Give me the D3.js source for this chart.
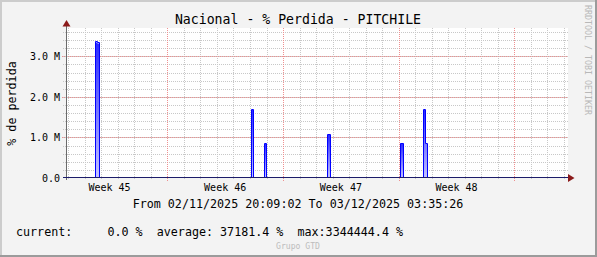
<!DOCTYPE html>
<html>
<head>
<meta charset="utf-8">
<script src="https://cdn.jsdelivr.net/npm/d3@7"></script>
<style>
  body { margin: 0; background: #f3f3f3; }
  text { font-family: "DejaVu Sans Mono", monospace; white-space: pre; }
</style>
</head>
<body>
<svg class="chart"></svg>
<script>
// time window of the graph (UTC)
var rangeStart = "2025-11-02 20:09:02",
    rangeEnd = "2025-12-03 03:35:26";

// non-zero samples of "% de perdida", each run ends with a 0
var sampleTimes = [
    "2025-11-04 14:47:00", "2025-11-04 18:15:00", "2025-11-04 21:11:00",
    "2025-11-14 00:51:00", "2025-11-14 04:12:00",
    "2025-11-14 20:39:00", "2025-11-14 23:07:00",
    "2025-11-18 16:15:00", "2025-11-18 20:15:00",
    "2025-11-23 02:27:00", "2025-11-23 05:58:00",
    "2025-11-24 11:03:00", "2025-11-24 14:27:00", "2025-11-24 17:21:00"
];
var sampleValues = [
    3344444.4, 3320000, 0,
    1680000, 0,
    840000, 0,
    1060000, 0,
    850000, 0,
    1680000, 840000, 0
];

var yTicks = [0, 1e6, 2e6, 3e6];
var yTickLabels = ["0.0", "1.0 M", "2.0 M", "3.0 M"];
var weekMids = ["2025-11-05 12:00:00", "2025-11-12 12:00:00", "2025-11-19 12:00:00", "2025-11-26 12:00:00"];
var weekLabels = ["Week 45", "Week 46", "Week 47", "Week 48"];

var title = "Nacional - % Perdida - PITCHILE",
    yTitle = "% de perdida",
    fromTo = "From 02/11/2025 20:09:02 To 03/12/2025 03:35:26",
    legend = "current:     0.0 %  average: 37181.4 %  max:3344444.4 %",
    footer = "Grupo GTD",
    watermark = "RRDTOOL / TOBI OETIKER";

var svgWidth = 597, svgHeight = 257;
var parse = d3.utcParse("%Y-%m-%d %H:%M:%S");

var svg = d3.select(".chart")
    .attr("width", svgWidth)
    .attr("height", svgHeight)
    .style("display", "block");

// canvas with rrdtool style shade border
svg.append("rect").attr("width", svgWidth).attr("height", svgHeight).attr("fill", "#f3f3f3");
svg.append("path").attr("d", "M0,0H597V2H2V257H0Z").attr("fill", "#cccccc");
svg.append("path").attr("d", "M597,0V257H0V255H595V0Z").attr("fill", "#9b9b9b");

var x = d3.scaleUtc()
    .domain([parse(rangeStart), parse(rangeEnd)])
    .range([65.5, 566.5]);
var y = d3.scaleLinear()
    .domain([0, 3.7e6])
    .range([178, 28]);

var crisp = function(v) { return Math.round(v) + 0.5; };

// plot background
svg.append("rect")
    .attr("x", 66).attr("y", 28)
    .attr("width", 502).attr("height", 150)
    .attr("fill", "#ffffff");

var dayLines = x.ticks(d3.utcDay.every(1));
var weekLines = x.ticks(d3.utcSunday.every(1));
var minorY = d3.range(0.2e6, 3.7e6, 0.2e6);

// each grid family is one dotted path
function vpath(data, y2) {
    var p = d3.path();
    data.forEach(function(d) { p.moveTo(crisp(x(d)), 28); p.lineTo(crisp(x(d)), y2); });
    return p.toString();
}
function hpath(data, x1) {
    var p = d3.path();
    data.forEach(function(d) { p.moveTo(x1, crisp(y(d))); p.lineTo(568, crisp(y(d))); });
    return p.toString();
}
var grid = svg.append("g")
    .attr("fill", "none")
    .attr("stroke-dasharray", "1,1");
grid.append("path").attr("d", vpath(dayLines, 180)).attr("stroke", "#c8c8c8");
grid.append("path").attr("d", hpath(minorY, 63)).attr("stroke", "#c8c8c8");
grid.append("path").attr("d", hpath(yTicks.slice(1), 62)).attr("stroke", "#ee9090");
grid.append("path").attr("d", vpath(weekLines, 182)).attr("stroke", "#ee9090");

// gradient for the spikes
var grad = svg.append("defs").append("linearGradient")
    .attr("id", "spikeFill")
    .attr("x1", 0).attr("y1", 0).attr("x2", 0).attr("y2", 1);
grad.append("stop").attr("offset", "0%").attr("stop-color", "#2a2aff");
grad.append("stop").attr("offset", "100%").attr("stop-color", "#c4c4ff");

// split samples into runs, each run is one spike
var runs = [], cur = [];
sampleTimes.forEach(function(t, i) {
    cur.push({t: parse(t), v: sampleValues[i]});
    if (sampleValues[i] === 0) { runs.push(cur); cur = []; }
});

var area = d3.area()
    .curve(d3.curveStepAfter)
    .x(function(d) { return crisp(x(d.t)); })
    .y0(y(0))
    .y1(function(d) { return y(d.v); });

svg.append("g").selectAll("path")
    .data(runs)
    .enter().append("path")
    .attr("d", area)
    .attr("fill", "url(#spikeFill)");

// step line for each spike
var line = d3.line()
    .curve(d3.curveStepAfter)
    .x(function(d) { return crisp(x(d.t)); })
    .y(function(d) { return crisp(y(d.v)) - 1; });

svg.append("g").selectAll("path")
    .data(runs)
    .enter().append("path")
    .attr("d", function(r) { return line([{t: r[0].t, v: 0}].concat(r)); })
    .attr("fill", "none")
    .attr("stroke", "#0000ff");

// axes
svg.append("line")
    .attr("x1", 66.5).attr("x2", 66.5).attr("y1", 180).attr("y2", 24)
    .attr("stroke", "#6a6a6a");
svg.append("line")
    .attr("x1", 63).attr("x2", 569).attr("y1", 177.5).attr("y2", 177.5)
    .attr("stroke", "#1c1c6a");
svg.append("path").attr("d", "M62.5,26.5L66.5,20L70.5,26.5Z").attr("fill", "#8b1a1a");
svg.append("path").attr("d", "M568,174L574.5,178L568,182Z").attr("fill", "#8b1a1a");

// y tick labels
svg.append("g").selectAll("text")
    .data(yTicks)
    .enter().append("text")
    .attr("x", 60)
    .attr("y", function(d) { return y(d) + 4; })
    .attr("text-anchor", "end")
    .attr("font-size", "10px")
    .attr("fill", "#000")
    .text(function(d, i) { return yTickLabels[i]; });

// week labels
svg.append("g").selectAll("text")
    .data(weekMids)
    .enter().append("text")
    .attr("x", function(d) { return x(parse(d)); })
    .attr("y", 191)
    .attr("text-anchor", "middle")
    .attr("font-size", "10px")
    .attr("fill", "#000")
    .text(function(d, i) { return weekLabels[i]; });

// title and texts
svg.append("text")
    .attr("x", 298).attr("y", 24)
    .attr("text-anchor", "middle")
    .attr("font-size", "13.2px")
    .text(title);

svg.append("text")
    .attr("transform", "translate(15.5,103.5) rotate(-90)")
    .attr("text-anchor", "middle")
    .attr("font-size", "11.7px")
    .text(yTitle);

svg.append("text")
    .attr("transform", "translate(585,5) rotate(90)")
    .attr("font-size", "8.3px")
    .attr("fill", "#b8b8b8")
    .text(watermark);

svg.append("text")
    .attr("x", 298).attr("y", 208)
    .attr("text-anchor", "middle")
    .attr("font-size", "11.7px")
    .text(fromTo);

svg.append("text")
    .attr("x", 16).attr("y", 236)
    .attr("font-size", "11.7px")
    .text(legend);

svg.append("text")
    .attr("x", 298).attr("y", 249)
    .attr("text-anchor", "middle")
    .attr("font-size", "8.1px")
    .attr("fill", "#bdbdbd")
    .text(footer);
</script>
</body>
</html>
